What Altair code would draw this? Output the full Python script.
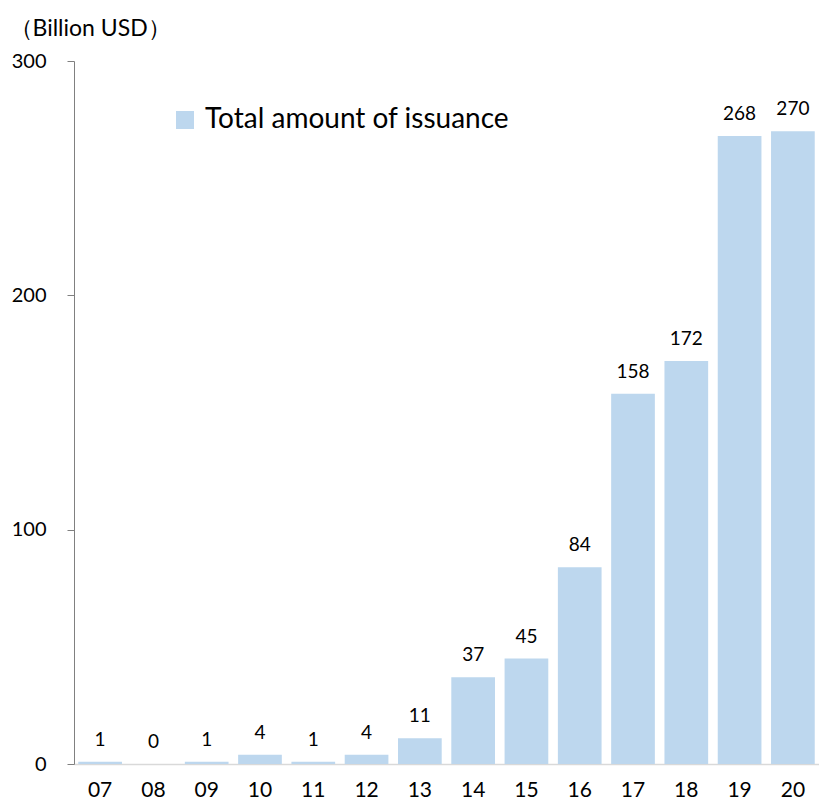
import altair as alt
import pandas as pd

years = ["07", "08", "09", "10", "11", "12", "13", "14", "15", "16", "17", "18", "19", "20"]
values = [1, 0, 1, 4, 1, 4, 11, 37, 45, 84, 158, 172, 268, 270]
series_name = "Total amount of issuance"

df = pd.DataFrame({"year": years, "value": values, "series": [series_name] * len(years)})

FONT = "Lato"

base = alt.Chart(df).encode(
    x=alt.X("year:N", sort=years,
            scale=alt.Scale(paddingInner=0.18, paddingOuter=0.08),
            axis=alt.Axis(title=None, labelAngle=0, ticks=False, labelFontSize=21,
                          labelPadding=15, labelColor="black", labelFont=FONT,
                          domainColor="#d9d9d9", domainWidth=1.5)),
)

bars = base.mark_bar(color="#BDD7EE").encode(
    y=alt.Y("value:Q", scale=alt.Scale(domain=[0, 300], nice=False),
            axis=alt.Axis(values=[0, 100, 200, 300], grid=False, tickSize=7,
                          tickColor="#808080", domainColor="#808080",
                          labelFontSize=20, labelPadding=21, labelColor="black",
                          labelFont=FONT,
                          title="（Billion USD）", titleAngle=0, titleAlign="left",
                          titleBaseline="middle", titleX=-65, titleY=-33,
                          titleFontSize=23, titleFontWeight="normal",
                          titleColor="black", titleFont=FONT)),
    color=alt.Color("series:N", scale=alt.Scale(range=["#BDD7EE"]),
                    legend=alt.Legend(title=None, orient="none", legendX=97, legendY=45,
                                      symbolType="square", symbolSize=324,
                                      symbolStrokeWidth=0, labelFontSize=28,
                                      labelFont=FONT, labelColor="black",
                                      labelOffset=6, labelLimit=0)),
)

labels = base.mark_text(baseline="bottom", dy=-12, fontSize=19, font=FONT,
                        color="black").encode(
    y=alt.Y("value:Q"),
    text=alt.Text("value:Q"),
)

chart = alt.layer(bars, labels).properties(
    width=745, height=703,
    autosize=alt.AutoSizeParams(type="none"),
    padding={"left": 66, "top": 53, "right": 0, "bottom": 38},
).configure_view(stroke=None)

chart.save("out.html", embed_options={"renderer": "svg", "actions": False})
